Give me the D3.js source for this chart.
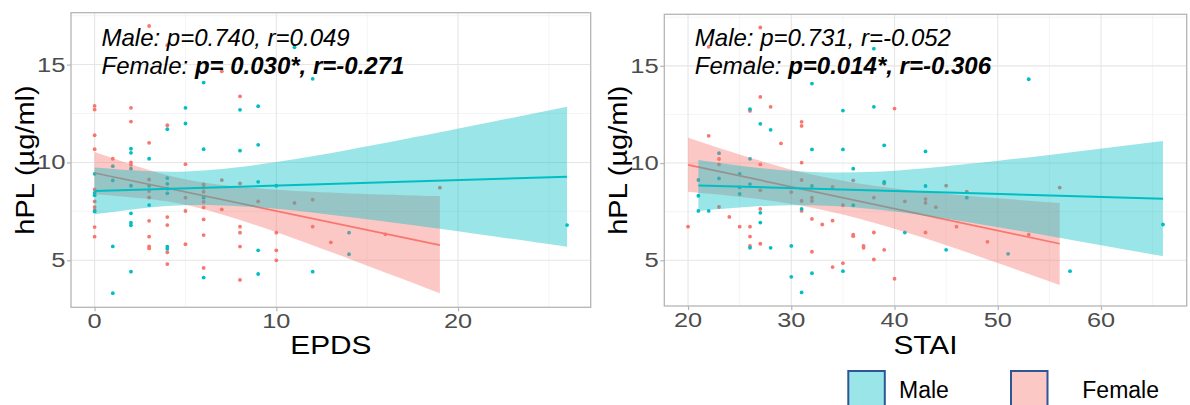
<!DOCTYPE html>
<html><head><meta charset="utf-8">
<script src="https://cdn.jsdelivr.net/npm/d3@7"></script>
<style>html,body{margin:0;padding:0;background:#fff;}svg{display:block;}</style>
</head><body>
<svg id="chart" width="1190" height="405"></svg>
<script>
// ---------------- DATA ----------------
const groups = ["Female", "Male"];
const legendLabels = ["Male", "Female"];
const colors = {Male: "#00BFC4", Female: "#F8766D"};

// EPDS panel
const epdsTicksX = [0, 10, 20];
const epdsMinorX = [5, 15, 25];
const hplTicks = [5, 10, 15];
const hplMinor = [7.5, 12.5, 17.5];

const epdsFemale = [
 [0,12.89],[0,12.70],[0,11.39],[0,10.68],[0,8.62],[0,8.01],[0,7.72],[0,7.57],[0,6.70],[0,6.21],
 [1,10.19],
 [2,12.79],[2,12.09],[2,10.0],[2,9.88],
 [3,16.97],[3,11.0],[3,9.13],[3,8.54],[3,8.21],[3,7.02],[3,6.21],[3,5.71],[3,5.61],
 [4,15.99],[4,11.90],[4,7.21],[4,6.80],[4,5.41],[4,4.81],
 [5,9.91],[5,8.20],[5,7.52],[5,5.82],
 [6,8.88],[6,8.71],[6,8.50],[6,8.23],[6,7.99],[6,7.70],[6,7.09],[6,6.29],[6,4.61],
 [7,14.66],[7,9.10],[7,7.60],
 [8,13.38],[8,8.93],[8,6.72],[8,6.41],[8,5.70],[8,4.00],
 [9,8.01],
 [10,6.41],[10,5.51],[10,5.00],
 [11,7.93],
 [12,8.10],[12,6.72],
 [13,5.92],[16,6.33],[19,8.71]
];
const epdsMale = [
 [0,9.42],[0,8.45],[0,8.32],[0,7.50],
 [1,9.81],[1,9.08],[1,5.71],[1,3.32],
 [2,10.70],[2,10.49],[2,9.68],[2,8.81],[2,7.40],[2,6.92],[2,6.79],[2,4.42],
 [3,10.19],[3,8.81],[3,7.82],
 [4,11.70],[4,9.20],[4,8.91],[4,8.66],[4,8.42],[4,5.70],[4,5.58],
 [5,12.79],[5,11.99],
 [6,14.08],[6,10.68],[6,8.20],[6,4.12],
 [8,12.69],[8,10.60],
 [9,12.87],[9,10.90],[9,9.01],[9,5.51],[9,4.30],
 [10,8.81],[11,15.88],[12,14.27],[12,4.42],
 [14,6.41],[14,5.31],[26,6.80]
];
// fitted lines: [x, y]
const epdsFemaleFit = [[0,9.46],[19,5.78]];
const epdsMaleFit = [[0,8.54],[26,9.27]];
// confidence bands: [x, lower, upper]
const epdsFemaleBand = [[0,8.38,10.54],[3,8.13,9.62],[6,7.61,8.98],[10,6.44,8.60],[14,5.08,8.42],[19,3.32,8.28]];
const epdsMaleBand = [[0,7.35,9.74],[3,7.70,9.55],[6,7.83,9.59],[10,7.63,10.02],[14,7.21,10.65],[19,6.61,11.54],[26,5.69,12.84]];

// STAI panel
const staiTicksX = [20, 30, 40, 50, 60];
const staiMinorX = [25, 35, 45, 55, 65];
const staiFemale = [
 [20,6.73],[22,15.98],[22,11.40],[23,10.21],[23,9.93],[23,7.74],[24,7.23],[25,6.73],
 [26,15.2],[26,12.68],[26,6.73],[26,6.22],[26,5.74],
 [27,16.97],[27,13.40],[27,9.93],[27,8.60],[27,7.64],[27,5.85],
 [28,12.89],[29,11.01],[30,8.51],
 [31,12.12],[31,11.91],[31,10.02],[31,9.13],[31,8.05],[31,7.54],
 [32,8.22],[32,8.05],[32,7.13],[32,5.44],[33,6.84],
 [34,8.77],[34,7.04],[34,4.65],
 [35,14.70],[35,7.83],[35,4.85],
 [36,9.11],[36,6.32],[36,6.24],[37,5.74],[37,5.64],
 [38,8.22],[38,6.43],[38,5.04],[39,5.54],[39,8.95],
 [40,12.80],[40,4.05],[41,8.03],
 [43,8.15],[43,7.95],[43,6.43],[44,7.73],[45,8.84],[46,6.73],[47,8.53],
 [49,5.95],[53,6.32],[56,8.74]
];
const staiMale = [
 [21,9.13],[21,8.32],[21,7.54],[22,7.54],[23,10.51],[23,9.21],
 [25,9.44],[25,8.75],[25,8.41],
 [26,12.77],[26,10.22],[26,8.92],[26,5.64],
 [27,12.02],[27,7.44],[27,6.94],[28,11.71],[28,5.64],
 [30,5.74],[30,4.15],[31,7.64],[31,3.35],
 [32,14.09],[32,10.70],[32,8.82],[32,4.34],
 [35,12.70],[35,10.70],[35,4.44],[36,9.71],[36,7.83],
 [38,15.88],[38,12.89],[39,10.91],[39,9.03],[41,6.43],
 [43,10.60],[43,8.82],[45,5.54],[47,8.22],[51,5.33],[53,14.31],[57,4.44],[66,6.84]
];
const staiFemaleFit = [[20,9.91],[56,5.85]];
const staiMaleFit = [[21,8.85],[66,8.17]];
const staiFemaleBand = [[20,8.52,11.30],[26,8.20,10.27],[32,7.70,9.41],[38,6.93,8.83],[44,5.95,8.46],[50,4.86,8.19],[56,3.73,7.95]];
const staiMaleBand = [[21,7.54,10.16],[26,7.75,9.80],[32,7.83,9.54],[38,7.63,9.55],[45,7.14,9.84],[55,6.25,10.42],[66,5.21,11.13]];

const epdsStats = {male: "Male: p=0.740, r=0.049", femaleLabel: "Female: ", femaleStat: "p= 0.030*, r=-0.271"};
const staiStats = {male: "Male: p=0.731, r=-0.052", femaleLabel: "Female: ", femaleStat: "p=0.014*, r=-0.306"};

// ---------------- DRAW ----------------
const svg = d3.select("#chart");
const FONT = "'Liberation Sans', Arial, Helvetica, sans-serif";

function label(g, x, y, str, o) {
  const t = g.append("text")
    .attr("transform", `translate(${x},${y}) rotate(${o.rot||0}) scale(${o.sx||1},1)`)
    .attr("text-anchor", o.anchor || "start")
    .attr("font-family", FONT)
    .attr("font-size", o.size)
    .attr("fill", o.color || "#000")
    .text(str);
  return t;
}

function panel(cfg) {
  const x = d3.scaleLinear().domain(cfg.xd).range([cfg.x0, cfg.x1]);
  const y = d3.scaleLinear().domain(cfg.yd).range([cfg.y1, cfg.y0]);
  const g = svg.append("g");
  // minor grid
  g.selectAll(".mx").data(cfg.minorX).join("line")
    .attr("x1", d => x(d)).attr("x2", d => x(d)).attr("y1", cfg.y0).attr("y2", cfg.y1)
    .attr("stroke", "#F3F3F3").attr("stroke-width", 0.8);
  g.selectAll(".my").data(hplMinor).join("line")
    .attr("y1", d => y(d)).attr("y2", d => y(d)).attr("x1", cfg.x0).attr("x2", cfg.x1)
    .attr("stroke", "#F3F3F3").attr("stroke-width", 0.8);
  // major grid
  g.selectAll(".gx").data(cfg.ticksX).join("line")
    .attr("x1", d => x(d)).attr("x2", d => x(d)).attr("y1", cfg.y0).attr("y2", cfg.y1)
    .attr("stroke", "#E6E6E6").attr("stroke-width", 1.1);
  g.selectAll(".gy").data(hplTicks).join("line")
    .attr("y1", d => y(d)).attr("y2", d => y(d)).attr("x1", cfg.x0).attr("x2", cfg.x1)
    .attr("stroke", "#E6E6E6").attr("stroke-width", 1.1);

  // points
  const pts = [...cfg.female.map(d => ({d, c: colors.Female})), ...cfg.male.map(d => ({d, c: colors.Male}))];
  g.selectAll(".pt").data(pts).join("circle")
    .attr("cx", p => x(p.d[0])).attr("cy", p => y(p.d[1])).attr("r", 1.9)
    .attr("fill", p => p.c);

  const area = d3.area().x(d => x(d[0])).y0(d => y(d[1])).y1(d => y(d[2])).curve(d3.curveNatural);
  const line = d3.line().x(d => x(d[0])).y(d => y(d[1]));
  // female smooth
  g.append("path").attr("d", area(cfg.femaleBand)).attr("fill", colors.Female).attr("fill-opacity", 0.4);
  g.append("path").attr("d", line(cfg.femaleFit)).attr("stroke", colors.Female).attr("stroke-width", 1.7).attr("fill", "none");
  // male smooth
  g.append("path").attr("d", area(cfg.maleBand)).attr("fill", colors.Male).attr("fill-opacity", 0.4);
  g.append("path").attr("d", line(cfg.maleFit)).attr("stroke", colors.Male).attr("stroke-width", 2).attr("fill", "none");

  // border
  g.append("rect").attr("x", cfg.x0).attr("y", cfg.y0).attr("width", cfg.x1 - cfg.x0).attr("height", cfg.y1 - cfg.y0)
    .attr("fill", "none").attr("stroke", "#B5B5B5").attr("stroke-width", 1.3);

  // axes with d3
  const ax = g.append("g").attr("transform", `translate(0,${cfg.y1})`)
    .call(d3.axisBottom(x).tickValues(cfg.ticksX).tickSize(4).tickPadding(0).tickFormat(""));
  const ay = g.append("g").attr("transform", `translate(${cfg.x0},0)`)
    .call(d3.axisLeft(y).tickValues(hplTicks).tickSize(4).tickPadding(0).tickFormat(""));
  [ax, ay].forEach(a => { a.select(".domain").remove(); a.selectAll("line").attr("stroke", "#B5B5B5").attr("stroke-width", 1.2); });

  // tick labels
  cfg.ticksX.forEach(v => label(g, x(v), cfg.y1 + 21, String(v), {size: 19.5, anchor: "middle", sx: 1.3, color: "#4D4D4D"}));
  hplTicks.forEach(v => label(g, cfg.x0 - 5.5, y(v) + 7, String(v), {size: 20, anchor: "end", sx: 1.28, color: "#4D4D4D"}));

  // axis titles
  label(g, (cfg.x0 + cfg.x1) / 2, 353.5, cfg.xTitle, {size: 25.5, anchor: "middle", sx: 1.17});
  label(g, cfg.x0 - 37, (cfg.y0 + cfg.y1) / 2, "hPL (µg/ml)", {size: 25, anchor: "middle", sx: 1.16, rot: -90});

  // annotations
  const ann = g.append("g").attr("font-family", FONT).attr("font-size", 24).attr("font-style", "italic");
  ann.append("text").attr("x", cfg.x0 + 30.5).attr("y", 46).text(cfg.stats.male);
  const t2 = ann.append("text").attr("x", cfg.x0 + 30.5).attr("y", 74);
  t2.append("tspan").text(cfg.stats.femaleLabel);
  t2.append("tspan").attr("font-weight", "bold").text(cfg.stats.femaleStat);
}

panel({x0: 71, x1: 590.7, y0: 12.7, y1: 307.3, xd: [-1.3, 27.3], yd: [2.6, 17.65],
  ticksX: epdsTicksX, minorX: epdsMinorX, female: epdsFemale, male: epdsMale,
  femaleFit: epdsFemaleFit, maleFit: epdsMaleFit, femaleBand: epdsFemaleBand, maleBand: epdsMaleBand,
  xTitle: "EPDS", stats: epdsStats});
panel({x0: 664.3, x1: 1186.7, y0: 14.3, y1: 306, xd: [17.7, 68.3], yd: [2.65, 17.65],
  ticksX: staiTicksX, minorX: staiMinorX, female: staiFemale, male: staiMale,
  femaleFit: staiFemaleFit, maleFit: staiMaleFit, femaleBand: staiFemaleBand, maleBand: staiMaleBand,
  xTitle: "STAI", stats: staiStats});

// legend
const leg = svg.append("g");
const legX = d3.scaleOrdinal().domain(legendLabels).range([848.3, 1011]);
const legTextX = d3.scaleOrdinal().domain(legendLabels).range([899, 1082.3]);
legendLabels.forEach(k => {
  leg.append("rect").attr("x", legX(k)).attr("y", 371).attr("width", 36.5).attr("height", 40)
    .attr("fill", colors[k]).attr("fill-opacity", 0.4);
  leg.append("rect").attr("x", legX(k)).attr("y", 371).attr("width", 36.5).attr("height", 40)
    .attr("fill", "none").attr("stroke", "#2F5597").attr("stroke-width", 2);
  label(leg, legTextX(k), 398.3, k, {size: 23});
});
</script>
</body></html>
